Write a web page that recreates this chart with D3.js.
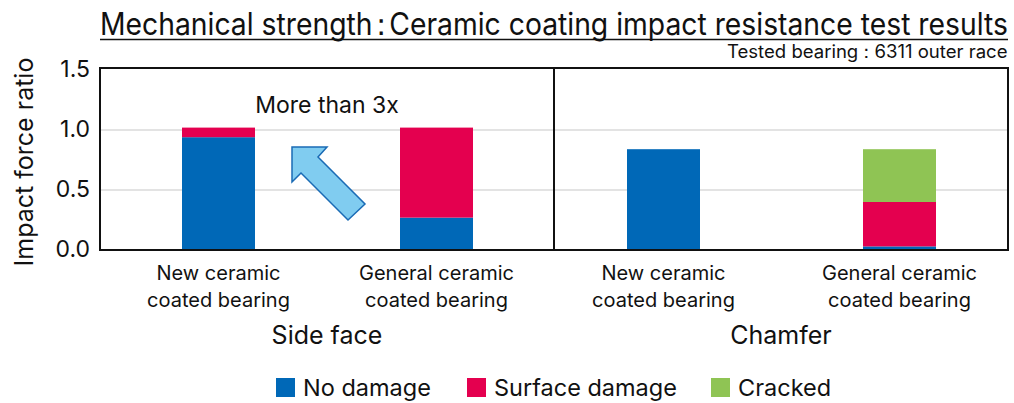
<!DOCTYPE html>
<html lang="en">
<head>
<meta charset="UTF-8">
<title>Ceramic coating impact resistance test results</title>
<style>
  body { margin: 0; background: #fff; }
  svg { display: block; font-family: Inter, "Liberation Sans", Arial, sans-serif; }
  text { fill: #111; }
  .grid line { stroke: #e3e3e3; stroke-width: 2px; }
  .frame { fill: none; stroke: #111; stroke-width: 2px; }
</style>
</head>
<body>
<script src="https://cdn.jsdelivr.net/npm/d3@7"></script>
<script>
// chart values
const panels = ["Side face", "Chamfer"];
const bearings = ["New ceramic|coated bearing", "General ceramic|coated bearing"];
const seriesNames = ["No damage", "Surface damage", "Cracked"];
const seriesColors = ["#0068b7", "#e4004f", "#8fc454"];
const noDamage = [0.94, 0.27, 0.84, 0.03];
const surfaceDamage = [0.08, 0.75, 0, 0.37];
const cracked = [0, 0, 0, 0.44];
const yTicks = [0, 0.5, 1.0, 1.5];

const width = 1014, height = 403;
const plotL = 100, plotR = 1008, plotT = 68, plotB = 250, plotMid = 554;

// one row per bar
const rows = [];
panels.forEach((p, pi) => bearings.forEach((b, bi) => {
  const i = pi * 2 + bi;
  rows.push({panel: p, bearing: b, "No damage": noDamage[i], "Surface damage": surfaceDamage[i], "Cracked": cracked[i]});
}));

const svg = d3.select("body").append("svg")
  .attr("width", width)
  .attr("height", height);

const y = d3.scaleLinear().domain([0, 1.5]).range([plotB, 70]);
const panelX = d3.scaleOrdinal().domain(panels).range([[plotL, plotMid], [plotMid, plotR]]);
// bar centres inside each panel
const xPos = {
  "Side face": d3.scalePoint().domain(bearings).range([218.5, 436.5]),
  "Chamfer": d3.scalePoint().domain(bearings).range([663.5, 899.5])
};
const barW = 73;
const color = d3.scaleOrdinal().domain(seriesNames).range(seriesColors);

// squeeze a text horizontally so it spans w pixels
function fitWidth(sel, x, yPos, w) {
  const bw = sel.node().getBBox().width;
  sel.attr("transform", `translate(${x},${yPos}) scale(${w / bw},1)`);
}

// gridlines
svg.append("g").attr("class", "grid")
  .selectAll("line")
  .data(yTicks.filter(d => d > 0 && d < 1.5))
  .join("line")
  .attr("x1", plotL).attr("x2", plotR)
  .attr("y1", d => y(d)).attr("y2", d => y(d));

// stacked bars
const stacked = d3.stack().keys(seriesNames)(rows);
svg.append("g")
  .selectAll("g")
  .data(stacked)
  .join("g")
  .attr("fill", d => color(d.key))
  .selectAll("rect")
  .data(d => d.filter(s => s[1] - s[0] > 0))
  .join("rect")
  .attr("x", d => xPos[d.data.panel](d.data.bearing) - barW / 2)
  .attr("width", barW)
  .attr("y", d => y(d[1]))
  .attr("height", d => y(d[0]) - y(d[1]));

// panel frames
svg.append("g")
  .selectAll("rect")
  .data(panels)
  .join("rect")
  .attr("class", "frame")
  .attr("x", d => panelX(d)[0])
  .attr("width", d => panelX(d)[1] - panelX(d)[0])
  .attr("y", plotT)
  .attr("height", plotB - plotT);

// y axis labels
const yAxis = d3.axisLeft(y).tickValues(yTicks).tickFormat(d3.format(".1f")).tickSize(0).tickPadding(10);
svg.append("g")
  .attr("transform", `translate(${plotL},0)`)
  .call(yAxis)
  .call(g => g.select(".domain").remove())
  .selectAll("text")
  .attr("font-size", 23)
  .attr("font-family", "Inter, sans-serif")
  .attr("dy", "0.3em")
  .attr("fill", "#111");

svg.append("text")
  .attr("transform", `translate(33,${(plotT + plotB) / 2 + 3}) rotate(-90)`)
  .attr("text-anchor", "middle")
  .attr("font-size", 25)
  .text("Impact force ratio");

// category labels
panels.forEach(p => {
  bearings.forEach(b => {
    const t = svg.append("text")
      .attr("text-anchor", "middle")
      .attr("font-size", 20);
    b.split("|").forEach((line, li) => {
      t.append("tspan")
        .attr("x", xPos[p](b))
        .attr("y", 280 + li * 27)
        .text(line);
    });
  });
  svg.append("text")
    .attr("x", (panelX(p)[0] + panelX(p)[1]) / 2)
    .attr("y", 344)
    .attr("text-anchor", "middle")
    .attr("font-size", 25)
    .text(p);
});

// title
const title = svg.append("text")
  .attr("font-size", 31);
title.append("tspan").text("Mechanical strength");
title.append("tspan").attr("dx", -6).text("\uFF1A");
title.append("tspan").attr("dx", -7).text("Ceramic coating impact resistance test results");
fitWidth(title, plotL, 35, plotR - plotL);
svg.append("line")
  .attr("x1", plotL).attr("x2", plotR)
  .attr("y1", 39.5).attr("y2", 39.5)
  .attr("stroke", "#111").attr("stroke-width", 1.5);

const sub = svg.append("text")
  .attr("font-size", 18);
sub.append("tspan").text("Tested bearing");
sub.append("tspan").attr("dx", -1).text("\uFF1A");
sub.append("tspan").attr("dx", -1).text("6311 outer race");
fitWidth(sub, 727, 58, plotR - 727);

// annotation
svg.append("text")
  .attr("x", 327)
  .attr("y", 113)
  .attr("text-anchor", "middle")
  .attr("font-size", 23)
  .text("More than 3x");

const arrowPts = [[292, 147], [327, 147], [318, 157], [365, 204], [348, 220], [301, 173], [292, 182]];
svg.append("path")
  .attr("d", d3.line()(arrowPts) + "Z")
  .attr("fill", "#80ccf0")
  .attr("stroke", "#1a6bb5")
  .attr("stroke-width", 1.5)
  .attr("stroke-linejoin", "miter");

// legend
const legendX = [276, 467, 711];
const legend = svg.append("g")
  .selectAll("g")
  .data(seriesNames)
  .join("g")
  .attr("transform", (d, i) => `translate(${legendX[i]},378)`);
legend.append("rect")
  .attr("width", 19).attr("height", 19)
  .attr("fill", d => color(d));
legend.append("text")
  .attr("x", 27)
  .attr("y", 18)
  .attr("font-size", 23.5)
  .text(d => d);
</script>
</body>
</html>
